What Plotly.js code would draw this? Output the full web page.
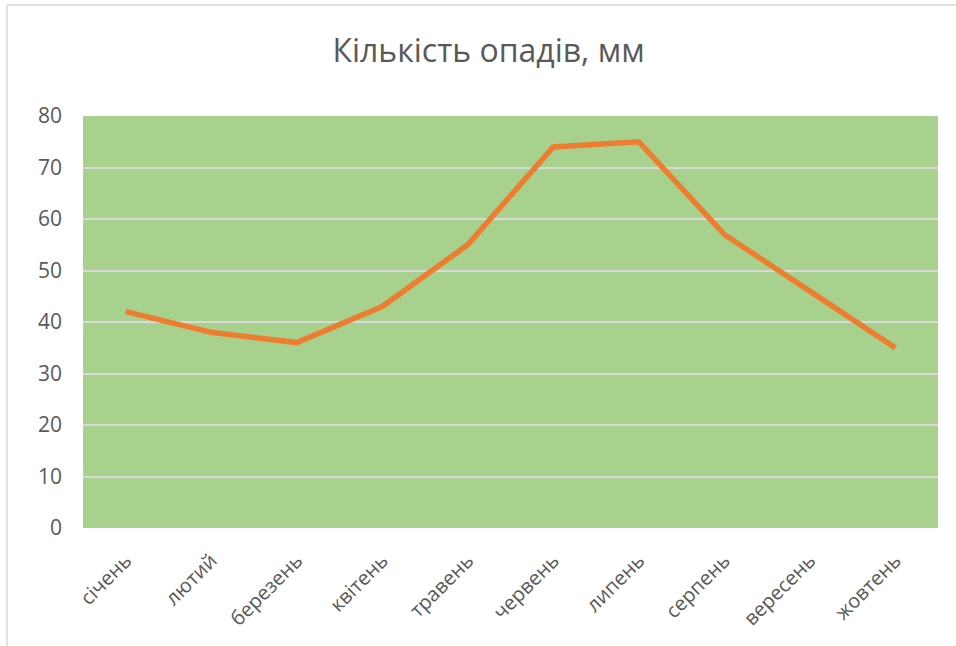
<!DOCTYPE html>
<html>
<head>
<meta charset="utf-8">
<script src="https://cdn.plot.ly/plotly-3.0.1.min.js"></script>
<style>html,body{margin:0;padding:0;background:#fff;}#chart{width:956px;height:646px;}</style>
</head>
<body>
<div id="chart"></div>
<script>
const months = ["січень","лютий","березень","квітень","травень","червень","липень","серпень","вересень","жовтень"];
const precipitation = [42, 38, 36, 43, 55, 74, 75, 57, 46, 35];
const yTicks = [0, 10, 20, 30, 40, 50, 60, 70, 80];

const W = 956, H = 646, L = 83, R = 18, T = 116, B = 118;
const pw = W - L - R, ph = H - T - B;
const px = v => (v - L) / pw;
const py = v => (H - B - v) / ph;

Plotly.newPlot('chart', [{
  x: months,
  y: precipitation,
  type: 'scatter',
  mode: 'lines',
  line: {color: '#ed7d31', width: 5.5},
  hoverinfo: 'x+y'
}], {
  width: W, height: H,
  margin: {l: L, r: R, t: T, b: B},
  paper_bgcolor: '#ffffff',
  plot_bgcolor: '#a9d18e',
  showlegend: false,
  font: {family: '"Open Sans", sans-serif', color: '#595959'},
  title: {text: 'Кількість опадів, мм', font: {size: 32, color: '#595959', family: '"Open Sans", sans-serif'}, x: 0.511, xanchor: 'center', y: 0.922, yanchor: 'middle'},
  xaxis: {
    type: 'category',
    tickangle: -45,
    tickfont: {size: 20, color: '#595959', family: '"Open Sans", sans-serif'},
    showgrid: false, zeroline: false, showline: false, ticks: '',
    ticklabelstandoff: 16,
    range: [-0.5, months.length - 0.5]
  },
  yaxis: {
    range: [0, 80],
    tickvals: yTicks,
    tickfont: {size: 21, color: '#595959', family: '"Open Sans", sans-serif'},
    gridcolor: '#d9d9d9', gridwidth: 2,
    zeroline: false, showline: false, ticks: '',
    ticklabelstandoff: 20
  },
  shapes: [
    {type: 'line', xref: 'paper', yref: 'paper', x0: px(7), x1: px(7), y0: py(5), y1: py(646), line: {color: '#d9d9d9', width: 1.5}},
    {type: 'line', xref: 'paper', yref: 'paper', x0: px(7), x1: px(956), y0: py(5), y1: py(5), line: {color: '#d9d9d9', width: 1.5}}
  ]
}, {displayModeBar: false});
</script>
</body>
</html>
